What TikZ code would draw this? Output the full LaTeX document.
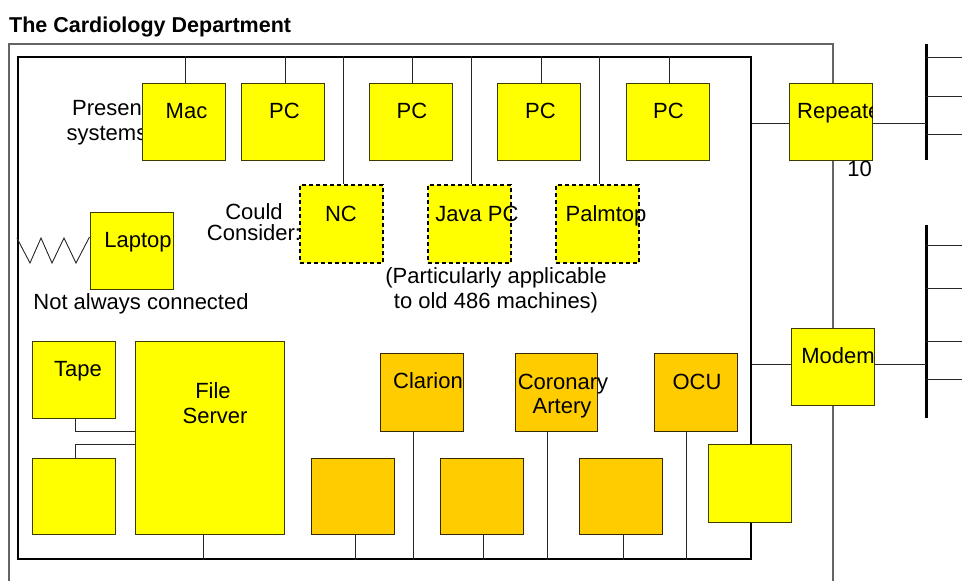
\documentclass[tikz,border=0pt]{standalone}
\usepackage{fontspec}
\setmainfont{Liberation Sans}
\definecolor{yel}{RGB}{255,255,0}
\definecolor{org}{RGB}{255,204,0}
\definecolor{edgecol}{RGB}{60,60,0}
\definecolor{framegray}{RGB}{100,100,100}
\begin{document}
\begin{tikzpicture}[x=1pt,y=-1pt,
  txt/.style={font=\fontsize{22}{26}\selectfont, inner sep=0pt, anchor=base},
  ybox/.style={draw=edgecol, fill=yel, line width=1pt, minimum width=83pt, minimum height=77pt, inner sep=0pt},
  obox/.style={ybox, fill=org, draw=black!80!org},
  dbox/.style={draw=black, fill=yel, line width=1.4pt, dash pattern=on 4pt off 3pt, minimum width=83pt, minimum height=78pt, inner sep=0pt},
  conn/.style={draw=black!85, line width=0.9pt},
  busbar/.style={fill=black, inner sep=0pt, minimum width=3pt},
  frameline/.style={draw=framegray, line width=1.2pt}
]
\useasboundingbox (0,0) rectangle (962,581);
\fill[white] (0,0) rectangle (962,581);

% title
\node[anchor=base west, inner sep=0pt, font=\fontsize{21.5}{26}\selectfont\bfseries] (title) at (9,32) {The Cardiology Department};

% outer frame
\draw[frameline] (9,581) -- (9,44) -- (833,44) -- (833,581);

% inner thick frame
\node[draw=black, line width=2.2pt, minimum width=733pt, minimum height=502pt, inner sep=0pt] (inner) at (384.5,308) {};

% text partly hidden behind the Mac box
\node[txt] (pres1) at (110,115) {Present};
\node[txt] (pres2) at (110,140) {systems:};

% boxes
\node[ybox] (mac) at (183.5,121.5) {};
\node[ybox] (pc1) at (283,121.5) {};
\node[ybox] (pc2) at (410.5,121.5) {};
\node[ybox] (pc3) at (539,121.5) {};
\node[ybox] (pc4) at (667.5,121.5) {};
\node[ybox] (rep) at (830.5,121.5) {};

\node[dbox] (nc) at (341.5,224) {};
\node[dbox] (jpc) at (469.5,224) {};
\node[dbox] (palm) at (597.5,224) {};

\node[ybox] (lap) at (131.5,250.5) {};

\node[ybox] (tape) at (73.5,379.5) {};
\node[ybox, minimum width=149pt, minimum height=193pt] (fs) at (209.5,437.5) {};
\node[ybox, minimum height=76pt] (tape2) at (73.5,496) {};

\node[obox, minimum height=78pt] (clar) at (422,392) {};
\node[obox, minimum width=82pt, minimum height=78pt] (cor) at (556,392) {};
\node[obox, minimum height=78pt] (ocu) at (695.5,392) {};

\node[obox, minimum height=76pt] (ob1) at (352.5,496) {};
\node[obox, minimum height=76pt] (ob2) at (481.5,496) {};
\node[obox, minimum height=76pt] (ob3) at (620.5,496) {};

\node[ybox, minimum height=78pt] (yb) at (749.5,483) {};

\node[ybox] (modem) at (832.5,366.5) {};

% bus bars on the right
\node[busbar, minimum height=116pt] (bar1) at (926,102) {};
\node[busbar, minimum height=193pt] (bar2) at (926,321.5) {};

\coordinate (r1) at (962,57);
\coordinate (r2) at (962,96);
\coordinate (r3) at (962,134);
\coordinate (r4) at (962,245);
\coordinate (r5) at (962,288);
\coordinate (r6) at (962,341);
\coordinate (r7) at (962,379);

% connectors to top bus
\foreach \n in {mac,pc1,pc2,pc3,pc4,nc,jpc,palm}
  \draw[conn] ([xshift=2pt]\n.north |- inner.north) -- ([xshift=2pt]\n.north);

% connectors to bottom bus
\draw[conn] ([xshift=-6.5pt]fs.south) -- ([xshift=-6.5pt]fs.south |- inner.south);
\draw[conn] ([xshift=2.5pt]ob1.south) -- ([xshift=2.5pt]ob1.south |- inner.south);
\draw[conn] ([xshift=-9pt]clar.south) -- ([xshift=-9pt]clar.south |- inner.south);
\draw[conn] ([xshift=1.5pt]ob2.south) -- ([xshift=1.5pt]ob2.south |- inner.south);
\draw[conn] ([xshift=-9pt]cor.south) -- ([xshift=-9pt]cor.south |- inner.south);
\draw[conn] ([xshift=2.5pt]ob3.south) -- ([xshift=2.5pt]ob3.south |- inner.south);
\draw[conn] ([xshift=-9.5pt]ocu.south) -- ([xshift=-9.5pt]ocu.south |- inner.south);

% tape connections
\draw[conn] ([xshift=1.5pt]tape.south) |- (fs.west |- 0,431);
\draw[conn] (fs.west |- 0,444) -| ([xshift=1.5pt]tape2.north);

% repeater and modem
\draw[conn] (inner.east |- 0,123) -- (rep.west |- 0,123);
\draw[conn] (rep.east |- 0,123) -- (bar1.center |- 0,123);
\draw[conn] (inner.east |- 0,364) -- (modem.west |- 0,364);
\draw[conn] (modem.east |- 0,364) -- (bar2.center |- 0,364);
\foreach \r in {r1,r2,r3}
  \draw[conn] (bar1.center |- \r) -- (\r);
\foreach \r in {r4,r5,r6,r7}
  \draw[conn] (bar2.center |- \r) -- (\r);

% zigzag (not always connected)
\draw[conn] (inner.west |- 0,238) -- (30,263) -- (41,238) -- (52,263) -- (64,238) -- (76,263) -- (lap.west |- 0,237);

% labels
\node[txt] (macl) at (186.5,118) {Mac};
\node[txt] (pc1l) at (284.5,118) {PC};
\node[txt] (pc2l) at (412,118) {PC};
\node[txt] (pc3l) at (540.5,118) {PC};
\node[txt] (pc4l) at (668.5,118) {PC};
\begin{scope}
  \clip (rep.south west) rectangle (rep.north east);
  \node[txt, anchor=base west] (repl) at (797,118) {Repeater};
\end{scope}
\node[txt, anchor=base east] (tenl) at (872,176) {10};

\node[txt] (could1) at (254,219) {Could};
\node[txt] (could2) at (254,240) {Consider:};
\node[txt] (ncl) at (341,221) {NC};
\node[txt] (jpcl) at (477,221) {Java PC};
\node[txt] (palml) at (606,221) {Palmtop};

\node[txt] (lapl) at (138,247) {Laptop};
\node[txt] (notc) at (141,309) {Not always connected};
\node[txt] (part1) at (496,283) {(Particularly applicable};
\node[txt] (part2) at (496,308) {to old 486 machines)};

\node[txt] (tapel) at (78,376) {Tape};
\node[txt] (fs1) at (213,398) {File};
\node[txt] (fs2) at (215,423) {Server};
\node[txt] (clarl) at (428,388) {Clarion};
\node[txt] (cor1) at (563,389) {Coronary};
\node[txt] (cor2) at (562,413) {Artery};
\node[txt] (ocul) at (697,389) {OCU};
\node[txt] (modeml) at (838,363) {Modem};
\end{tikzpicture}
\end{document}
